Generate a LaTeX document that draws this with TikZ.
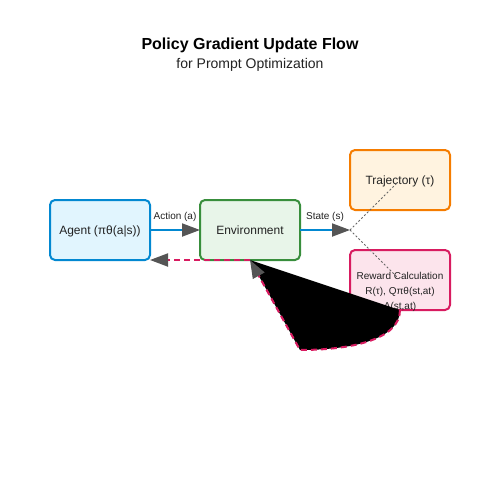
\documentclass[tikz,border=0pt]{standalone}
\usepackage{fontspec}
\setmainfont{Liberation Sans}
\usetikzlibrary{arrows.meta}
\definecolor{agentfill}{HTML}{E1F5FE}
\definecolor{agentdraw}{HTML}{0288D1}
\definecolor{envfill}{HTML}{E8F5E9}
\definecolor{envdraw}{HTML}{388E3C}
\definecolor{trajfill}{HTML}{FFF3E0}
\definecolor{trajdraw}{HTML}{F57C00}
\definecolor{rewfill}{HTML}{FCE4EC}
\definecolor{rewdraw}{HTML}{D81B60}
\definecolor{arrowgray}{HTML}{555555}
\definecolor{dotgray}{HTML}{666666}
\definecolor{txt}{HTML}{222222}
\tikzset{
  box/.style={rectangle, rounded corners=5pt, line width=2pt, minimum width=100pt, minimum height=60pt, inner sep=0pt, outer sep=0pt, font=\fontsize{12}{14}\selectfont, text=txt, align=center, text height=10.6pt, text depth=2pt},
  tip/.style={-{Triangle[length=18pt,width=13pt,color=arrowgray]}},
  flow/.style={tip, line width=2pt, draw=agentdraw},
  feedback/.style={tip, line width=2pt, draw=rewdraw, dash pattern=on 6pt off 4pt},
  split/.style={draw=dotgray, line width=0.8pt, dash pattern=on 2pt off 2pt},
  lbl/.style={font=\fontsize{10}{12}\selectfont, text=txt}
}
\begin{document}
\begin{tikzpicture}[x=1pt,y=-1pt]
\useasboundingbox (0,0) rectangle (500,500);
\node[font=\bfseries\fontsize{16}{19}\selectfont, text=black] (title) at (250,45) {Policy Gradient Update Flow};
\node[font=\fontsize{14}{17}\selectfont, text=txt] (subtitle) at (250,65) {for Prompt Optimization};
\node[box, fill=agentfill, draw=agentdraw] (agent) at (100,230) {Agent (πθ(a|s))};
\node[box, fill=envfill, draw=envdraw] (env) at (250,230) {Environment};
\node[box, fill=trajfill, draw=trajdraw] (traj) at (400,180) {Trajectory (τ)};
\node[box, fill=rewfill, draw=rewdraw] (rew) at (400,280) {};
\node[font=\fontsize{10}{15}\selectfont, text=txt, align=center, inner sep=0pt] (rewtxt) at (400,291.5) {Reward Calculation\\R(τ), Qπθ(st,at)\\A(st,at)};
\coordinate (fork) at (350,230);
\draw[flow] (agent.east) -- node[lbl, above=4pt] (actlbl) {Action (a)} (env.west);
\draw[flow] (env.east) -- node[lbl, above=4pt] (statelbl) {State (s)} (fork);
\draw[split] (fork) -- (397,183);
\draw[split] (fork) -- (397,277);
\draw[feedback] (env.south) -- (agent.south east);
\fill[black] (rew.south) .. controls (400,340) and (350,350) .. (300,350) -- (env.south) -- cycle;
\draw[feedback] (rew.south) .. controls (400,340) and (350,350) .. (300,350) -- (env.south);
\end{tikzpicture}
\end{document}
